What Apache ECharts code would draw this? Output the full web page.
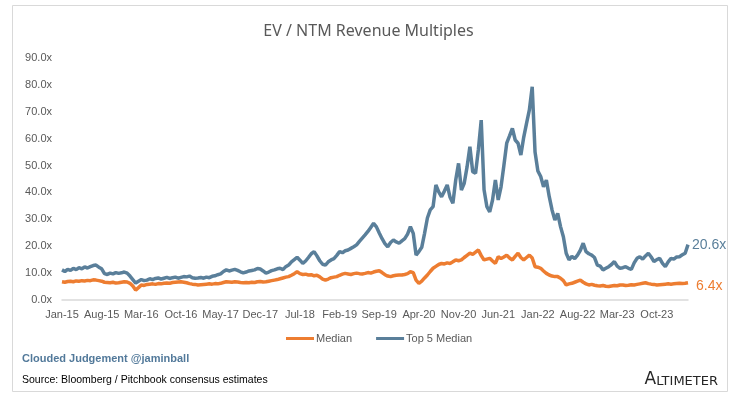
<!DOCTYPE html>
<html>
<head>
<meta charset="utf-8">
<title>EV / NTM Revenue Multiples</title>
<script src="https://cdn.jsdelivr.net/npm/echarts@6/dist/echarts.min.js"></script>
<style>
  html, body { margin: 0; padding: 0; background: #ffffff; }
  #chart { width: 737px; height: 396px; }
</style>
</head>
<body>
<div id="chart"></div>
<script>
  // semi-monthly points, Jan-15 .. Mar-24 (two per month)
  const monthNames = ['Jan','Feb','Mar','Apr','May','Jun','Jul','Aug','Sep','Oct','Nov','Dec'];
  const categories = [];
  for (let m = 0; m <= 110; m++) {
    const lbl = monthNames[m % 12] + '-' + (15 + Math.floor(m / 12));
    categories.push(lbl);
    categories.push(lbl + ' H2');
  }

  // Top 5 Median (x)
  const top5Median = [
    11.2, 10.6, 11.4, 11.0, 11.8, 11.3, 12.0, 11.6, 12.3, 11.9, 12.4, 12.8,
    13.0, 12.2, 11.6, 9.8, 9.5, 10.0, 9.7, 10.2, 9.9, 10.1, 10.4, 10.0,
    8.9, 7.6, 6.3, 7.0, 7.6, 7.2, 7.4, 7.9, 7.6, 8.0, 8.2, 7.8,
    8.1, 8.4, 8.0, 8.3, 8.5, 8.1, 8.4, 8.7, 8.6, 8.9, 8.3, 8.1,
    8.2, 8.4, 8.1, 8.5, 8.3, 8.8, 9.0, 9.4, 9.7, 10.6, 11.2, 10.8,
    11.1, 11.4, 11.0, 10.5, 10.1, 10.4, 10.8, 11.0, 11.2, 11.7, 11.5, 10.8,
    10.0, 10.4, 10.9, 11.2, 11.6, 11.8, 11.3, 12.4, 13.0, 14.2, 15.0, 15.9,
    14.8, 13.6, 14.5, 15.8, 17.2, 18.0, 16.4, 14.6, 13.3, 13.0, 14.2, 14.9,
    15.4, 16.6, 18.0, 17.6, 18.3, 18.6, 19.2, 19.8, 20.5, 21.8, 23.0, 24.2,
    25.5, 27.0, 28.5, 27.2, 24.9, 22.8, 21.0, 19.8, 21.4, 22.3, 21.6, 21.1,
    22.0, 22.8, 24.5, 27.3, 24.8, 16.7, 18.0, 19.6, 24.8, 30.5, 33.5, 34.7,
    42.8, 40.2, 38.4, 40.5, 42.8, 38.2, 36.0, 44.6, 50.8, 40.9, 43.4, 49.5,
    57.0, 47.7, 47.1, 56.0, 66.9, 41.0, 34.7, 32.8, 37.2, 44.6, 37.2, 42.1,
    50.0, 58.3, 61.0, 63.8, 59.5, 58.3, 53.9, 60.5, 65.7, 70.7, 79.3, 55.0,
    48.0, 45.9, 42.1, 44.6, 38.5, 33.5, 29.7, 32.2, 27.3, 23.5, 17.4, 14.9,
    16.2, 15.4, 16.7, 18.5, 21.1, 18.0, 17.2, 16.7, 15.8, 13.0, 12.6, 11.2,
    11.8, 12.4, 13.2, 14.3, 12.6, 11.8, 12.0, 12.4, 11.8, 11.4, 13.8, 15.5,
    16.1, 15.2, 16.4, 17.4, 16.0, 14.3, 15.0, 15.5, 13.6, 12.4, 14.2, 15.5,
    15.2, 16.0, 16.1, 16.8, 17.4, 20.6
  ];

  // Median (x)
  const median = [
    6.8, 6.6, 6.9, 7.0, 6.8, 7.1, 7.0, 7.2, 7.1, 7.3, 7.2, 7.5,
    7.4, 7.2, 7.0, 6.6, 6.5, 6.4, 6.6, 6.3, 6.4, 6.6, 6.8, 6.7,
    6.2, 5.2, 3.7, 4.6, 5.6, 5.4, 5.8, 5.9, 6.0, 5.8, 6.1, 6.0,
    6.2, 6.3, 6.2, 6.5, 6.6, 6.7, 6.8, 6.6, 6.4, 6.1, 5.9, 5.8,
    5.6, 5.7, 5.8, 5.9, 6.0, 5.9, 6.1, 6.0, 6.2, 6.5, 6.8, 6.7,
    6.6, 6.8, 6.7, 6.5, 6.4, 6.5, 6.4, 6.6, 6.5, 6.8, 6.9, 6.7,
    6.8, 7.0, 7.2, 7.4, 7.6, 7.9, 8.2, 8.5, 8.7, 9.2, 9.8, 10.5,
    9.8, 9.5, 9.6, 9.3, 9.4, 9.0, 9.2, 8.6, 7.8, 7.4, 7.8, 8.3,
    8.5, 8.7, 9.2, 9.6, 9.9, 9.7, 9.5, 9.8, 10.0, 9.8, 9.7, 9.9,
    10.2, 10.0, 10.4, 10.7, 10.9, 10.2, 9.4, 8.9, 8.7, 9.0, 9.2, 9.3,
    9.3, 9.5, 9.8, 10.5, 10.2, 7.4, 6.2, 7.0, 8.2, 9.3, 10.6, 11.8,
    12.5, 13.2, 13.6, 13.4, 13.8, 13.6, 14.2, 14.9, 14.6, 14.9, 15.8, 16.6,
    17.4, 17.0, 17.8, 18.6, 16.5, 14.9, 15.2, 15.5, 14.5, 13.6, 16.1, 15.4,
    16.0, 16.7, 15.6, 14.9, 16.2, 17.4, 15.8, 14.9, 15.8, 16.7, 15.6, 12.4,
    12.2, 11.8, 10.8, 9.9, 9.3, 8.9, 8.7, 8.7, 8.1, 7.2, 5.6, 6.0,
    6.2, 6.6, 7.0, 7.4, 6.6, 6.0, 5.6, 5.8, 5.5, 5.3, 5.2, 5.4,
    5.1, 5.0, 5.2, 5.4, 5.3, 5.6, 5.6, 5.4, 5.5, 5.7, 5.6, 5.8,
    6.0, 6.2, 6.4, 6.1, 5.9, 5.8, 5.6, 5.7, 5.8, 5.9, 6.0, 5.9,
    6.0, 6.1, 6.2, 6.1, 6.2, 6.4
  ];

  const yMin = 0, yMax = 90, yStep = 10;
  const orange = '#ED7D31';
  const blue = '#5A7F9A';
  const textGray = '#595959';

  let myChart = echarts.init(document.getElementById('chart'));

  let option = {
    animation: false,
    backgroundColor: '#ffffff',
    title: {
      text: 'EV / NTM Revenue Multiples',
      left: 'center',
      top: 18,
      textStyle: { fontFamily: 'Noto Sans', fontSize: 16, fontWeight: 'normal', color: textGray }
    },
    legend: {
      data: ['Median', 'Top 5 Median'],
      left: 281,
      top: 328,
      icon: 'rect',
      itemWidth: 28,
      itemHeight: 3,
      itemGap: 24,
      textStyle: { fontFamily: 'Liberation Sans', fontSize: 11, color: textGray, padding: [0, 0, 0, -3] }
    },
    grid: { left: 62, right: 49, top: 58, bottom: 96, containLabel: false },
    xAxis: {
      type: 'category',
      data: categories,
      boundaryGap: false,
      axisLine: { lineStyle: { color: '#d9d9d9', width: 1.5 } },
      axisTick: { show: false },
      axisLabel: {
        interval: 13,
        margin: 9,
        fontFamily: 'Liberation Sans',
        fontSize: 11,
        color: textGray,
        formatter: v => v.slice(0, 6)
      },
      splitLine: { show: false }
    },
    yAxis: {
      type: 'value',
      min: yMin,
      max: yMax,
      interval: yStep,
      axisLine: { show: false },
      axisTick: { show: false },
      splitLine: { show: false },
      axisLabel: {
        margin: 10,
        fontFamily: 'Liberation Sans',
        fontSize: 11,
        color: textGray,
        formatter: v => v.toFixed(1) + 'x'
      }
    },
    series: [
      {
        name: 'Median',
        type: 'line',
        data: median,
        showSymbol: false,
        lineStyle: { color: orange, width: 3.5 },
        itemStyle: { color: orange },
        endLabel: {
          show: true,
          distance: 8,
          offset: [0, 3],
          formatter: p => p.value.toFixed(1) + 'x',
          fontFamily: 'Liberation Sans',
          fontSize: 14,
          color: orange
        },
        z: 3
      },
      {
        name: 'Top 5 Median',
        type: 'line',
        data: top5Median,
        showSymbol: false,
        lineStyle: { color: blue, width: 3.5 },
        itemStyle: { color: blue },
        endLabel: {
          show: true,
          distance: 4,
          offset: [0, 1],
          formatter: p => p.value.toFixed(1) + 'x',
          fontFamily: 'Liberation Sans',
          fontSize: 14,
          color: blue
        },
        z: 2
      }
    ],
    graphic: [
      {
        type: 'rect',
        silent: true,
        shape: { x: 12.5, y: 5.5, width: 715, height: 386 },
        style: { fill: 'none', stroke: '#d9d9d9', lineWidth: 1 }
      },
      {
        type: 'text',
        left: 22,
        top: 353,
        style: { text: 'Clouded Judgement @jaminball', fontFamily: 'Liberation Sans', fontSize: 11, fontWeight: 'bold', fill: '#52799A' }
      },
      {
        type: 'text',
        left: 22,
        top: 375,
        style: { text: 'Source: Bloomberg / Pitchbook consensus estimates', fontFamily: 'Liberation Sans', fontSize: 10.5, fill: '#000000' }
      },
      {
        type: 'text',
        right: 19,
        top: 371,
        style: {
          text: '{a|A}{b|LTIMETER}',
          rich: {
            a: { fontFamily: 'DejaVu Sans', fontSize: 17, fill: '#262626', verticalAlign: 'bottom' },
            b: { fontFamily: 'DejaVu Sans', fontSize: 13, fill: '#262626', verticalAlign: 'bottom' }
          }
        }
      }
    ]
  };

  if (option && typeof option === 'object') {
    myChart.setOption(option, true);
  }
  window.addEventListener('resize', function () {
    myChart.resize();
  });
</script>
</body>
</html>
